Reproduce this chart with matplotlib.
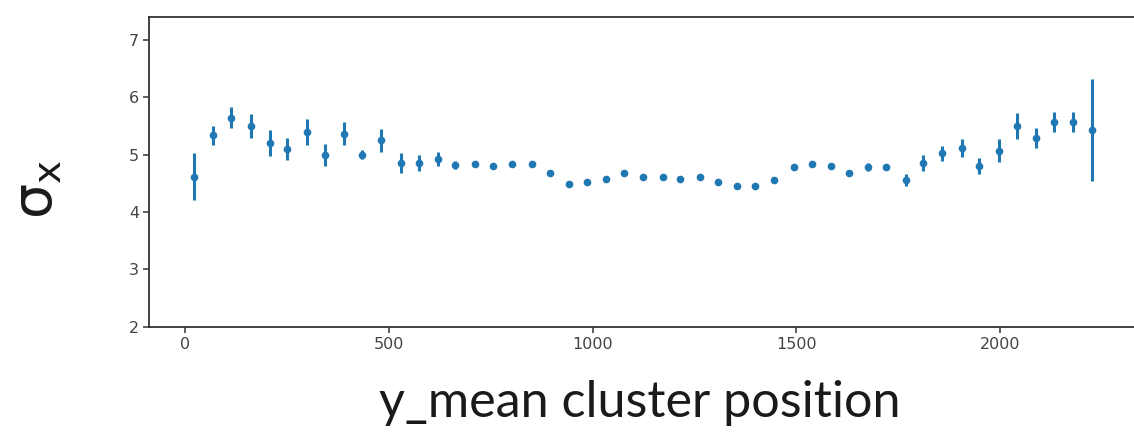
import matplotlib
matplotlib.use('Agg')
import matplotlib.pyplot as plt

# y_mean cluster position (bin centres)
y_pos = [20, 67, 111, 160, 207, 250, 299, 342, 389, 434,
         479, 530, 573, 620, 663, 712, 755, 802, 851, 894,
         942, 986, 1033, 1077, 1124, 1172, 1215, 1264, 1307, 1355,
         1398, 1445, 1493, 1538, 1585, 1629, 1677, 1720, 1768, 1811,
         1858, 1906, 1949, 1998, 2041, 2088, 2132, 2179, 2227]

# sigma_x
sigma = [4.62, 5.34, 5.65, 5.50, 5.21, 5.10, 5.40, 5.00, 5.37, 5.00,
         5.25, 4.86, 4.86, 4.93, 4.83, 4.84, 4.81, 4.84, 4.84, 4.69,
         4.49, 4.53, 4.58, 4.68, 4.62, 4.62, 4.58, 4.62, 4.53, 4.46,
         4.46, 4.56, 4.78, 4.84, 4.81, 4.69, 4.78, 4.79, 4.56, 4.86,
         5.03, 5.12, 4.81, 5.07, 5.50, 5.29, 5.57, 5.57, 5.43]

# error on sigma_x
sigma_err = [0.41, 0.17, 0.19, 0.21, 0.23, 0.19, 0.23, 0.19, 0.20, 0.08,
             0.20, 0.17, 0.14, 0.12, 0.07, 0.05, 0.04, 0.04, 0.04, 0.04,
             0.04, 0.04, 0.04, 0.04, 0.04, 0.04, 0.04, 0.04, 0.04, 0.04,
             0.04, 0.04, 0.04, 0.04, 0.04, 0.05, 0.07, 0.05, 0.11, 0.14,
             0.13, 0.15, 0.14, 0.20, 0.23, 0.18, 0.18, 0.17, 0.89]

fig = plt.figure(figsize=(11.34, 4.32), dpi=100)
# axes runs past the right edge, like the cropped screenshot
ax = fig.add_axes([149.3/1134, 105.3/432, (1142.5-149.3)/1134, 310/432])

ax.errorbar(y_pos, sigma, yerr=sigma_err, fmt='o', ms=4.5, color='#1f77b4',
            elinewidth=2.2, capsize=0)

ax.set_xlim(-88.8, 2349.8)
ax.set_ylim(2, 7.41)
ax.set_xticks([0, 500, 1000, 1500, 2000])
ax.set_yticks([2, 3, 4, 5, 6, 7])

for s in ax.spines.values():
    s.set_color('#333333')
    s.set_linewidth(1.3)
ax.tick_params(colors='#333333', labelcolor='#444444', labelsize=11.5,
               length=4, width=1.1)

fig.text(640/1134, 1 - 417/432, 'y_mean cluster position', family='Lato',
         fontsize=36.2, ha='center', va='baseline', color='#1a1a1a')
fig.text(37/1134, 1 - 189/432, r'$\mathrm{\sigma}_\mathrm{x}$', rotation=90,
         fontsize=40, ha='center', va='center', color='#1a1a1a')

fig.savefig('out.png', dpi=100)
